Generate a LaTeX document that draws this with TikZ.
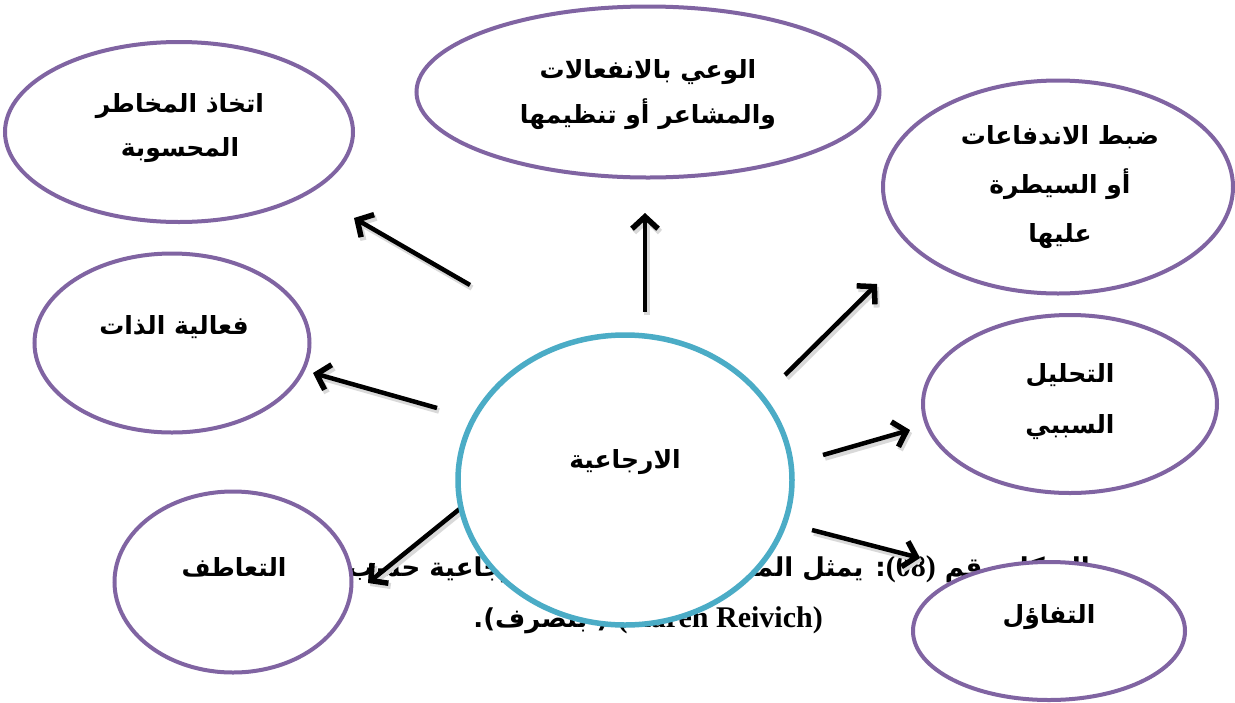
\documentclass[tikz,border=0pt]{standalone}
\usepackage{fontspec}
\setmainfont{Liberation Serif}
\newfontfamily\arfont[Script=Arabic]{DejaVu Sans}
\newfontfamily\latfont{Liberation Serif}
\TeXXeTstate=1
\usetikzlibrary{shapes.geometric,arrows.meta}
\definecolor{ringpurple}{HTML}{8064A2}
\definecolor{ringaqua}{HTML}{4BACC6}
\begin{document}
\begin{tikzpicture}[x=1pt,y=-1pt,
  comp/.style={ellipse, draw=ringpurple, line width=4pt, fill=white, inner sep=0pt},
  core/.style={ellipse, draw=ringaqua, line width=5.5pt, fill=white, inner sep=0pt},
  lbl/.style={font=\arfont\bfseries\fontsize{25}{44}\selectfont, align=center, inner sep=0pt},
  captext/.style={font=\arfont\bfseries\fontsize{26}{30}\selectfont, inner sep=0pt},
  arr/.style={line width=4.5pt, -{Straight Barb[length=12pt,width=26pt,line width=5.5pt]}},
  shd/.style={line width=5.5pt, black!15, -{Straight Barb[length=12pt,width=26pt,line width=6pt]}}
]
\useasboundingbox[fill=white] (0,0) rectangle (1235,702);

% caption (partly covered)
\node[captext, anchor=east] (cap1) at (1090,567) {\beginR الشكل رقم \beginL{\latfont\bfseries\fontsize{30}{30}\selectfont (08)}\endL: يمثل المكونات الأساسية للارجاعية حسب\endR};
\node[captext, anchor=east] (cap2) at (823,620) {\beginR\beginL{\latfont\bfseries\fontsize{30}{30}\selectfont (Karen Reivich)}\endL{} ( بتصرف).\endR};

% arrow end points
\coordinate (a1s) at (470,285); \coordinate (a1e) at (354,218);
\coordinate (a2s) at (645,312); \coordinate (a2e) at (645,213);
\coordinate (a3s) at (785,375); \coordinate (a3e) at (877,284);
\coordinate (a4s) at (437,408); \coordinate (a4e) at (313,373);
\coordinate (a5s) at (823,455); \coordinate (a5e) at (910,430);
\coordinate (a6s) at (462,507); \coordinate (a6e) at (368,583);
\coordinate (a7s) at (812,530); \coordinate (a7e) at (920,558);

\foreach \s/\e in {a1s/a1e,a2s/a2e,a3s/a3e,a4s/a4e,a5s/a5e,a6s/a6e,a7s/a7e}{
  \draw[shd] ([shift={(2,3)}]\s) -- ([shift={(2,3)}]\e);
}
\foreach \s/\e in {a1s/a1e,a2s/a2e,a3s/a3e,a4s/a4e,a5s/a5e,a6s/a6e,a7s/a7e}{
  \draw[arr] (\s) -- (\e);
}

% ellipses
\node[comp, minimum width=348pt, minimum height=180pt] (risk) at (179,132) {};
\node[comp, minimum width=463pt, minimum height=171pt] (aware) at (648,92) {};
\node[comp, minimum width=350pt, minimum height=213pt] (impulse) at (1058,187) {};
\node[comp, minimum width=275pt, minimum height=179pt] (effic) at (172,343) {};
\node[comp, minimum width=294pt, minimum height=178pt] (causal) at (1070,404) {};
\node[comp, minimum width=237pt, minimum height=181pt] (empathy) at (233,582) {};
\node[comp, minimum width=272pt, minimum height=138pt] (optim) at (1049,631) {};
\node[core, minimum width=334pt, minimum height=290pt] (resil) at (625,480) {};

% labels
\node[lbl] (t-risk) at (180,128) {\beginR اتخاذ المخاطر\endR\\\beginR المحسوبة\endR};
\node[lbl, font=\arfont\bfseries\fontsize{25}{45}\selectfont] (t-aware) at (648,95) {\beginR الوعي بالانفعالات\endR\\\beginR والمشاعر أو تنظيمها\endR};
\node[lbl, font=\arfont\bfseries\fontsize{25}{49}\selectfont] (t-impulse) at (1060,187) {\beginR ضبط الاندفاعات\endR\\\beginR أو السيطرة\endR\\\beginR عليها\endR};
\node[lbl] (t-effic) at (174,327) {\beginR فعالية الذات\endR};
\node[lbl, font=\arfont\bfseries\fontsize{25}{51}\selectfont] (t-causal) at (1070,402) {\beginR التحليل\endR\\\beginR السببي\endR};
\node[lbl] (t-resil) at (625,462) {\beginR الارجاعية\endR};
\node[lbl] (t-empathy) at (234,567) {\beginR التعاطف\endR};
\node[lbl] (t-optim) at (1049,617) {\beginR التفاؤل\endR};
\end{tikzpicture}
\end{document}
